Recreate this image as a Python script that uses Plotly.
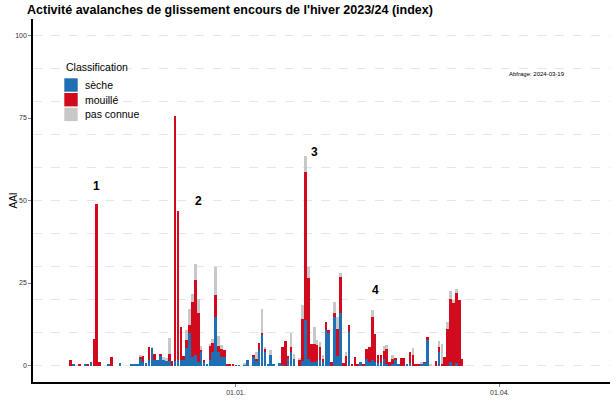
import plotly.graph_objects as go
import pandas as pd

dates = [
 "2023-11-05","2023-11-06","2023-11-08","2023-11-10","2023-11-11","2023-11-12","2023-11-13","2023-11-14","2023-11-15",
 "2023-11-18","2023-11-19","2023-11-22","2023-11-26","2023-11-27","2023-11-28","2023-11-29","2023-11-30",
 "2023-12-01","2023-12-02","2023-12-03","2023-12-04","2023-12-05","2023-12-06","2023-12-07","2023-12-08","2023-12-09",
 "2023-12-10","2023-12-11","2023-12-12","2023-12-13","2023-12-14","2023-12-15","2023-12-16","2023-12-17","2023-12-18",
 "2023-12-19","2023-12-20","2023-12-21","2023-12-22","2023-12-23","2023-12-24","2023-12-25","2023-12-26","2023-12-27",
 "2023-12-28","2023-12-29","2023-12-30","2023-12-31",
 "2024-01-01","2024-01-02","2024-01-04","2024-01-05","2024-01-07","2024-01-08","2024-01-09","2024-01-10","2024-01-11",
 "2024-01-12","2024-01-13","2024-01-14","2024-01-16","2024-01-17","2024-01-18","2024-01-19","2024-01-20","2024-01-21",
 "2024-01-23","2024-01-24","2024-01-25","2024-01-26","2024-01-27","2024-01-28","2024-01-29","2024-01-30","2024-01-31",
 "2024-02-01","2024-02-02","2024-02-03","2024-02-04","2024-02-05","2024-02-06","2024-02-07","2024-02-08","2024-02-09",
 "2024-02-10","2024-02-11","2024-02-12","2024-02-13","2024-02-14","2024-02-15","2024-02-16","2024-02-17","2024-02-18",
 "2024-02-19","2024-02-20","2024-02-21","2024-02-22","2024-02-23","2024-02-24","2024-02-25","2024-02-26","2024-02-27",
 "2024-02-28","2024-02-29","2024-03-01","2024-03-02","2024-03-03","2024-03-04","2024-03-05","2024-03-06","2024-03-07",
 "2024-03-08","2024-03-10","2024-03-11","2024-03-12","2024-03-13","2024-03-14","2024-03-15","2024-03-16","2024-03-17",
 "2024-03-18","2024-03-19",
]

seche = [
 0,0.3,0,0.3,0,1.0,0,0,0,
 0.3,0,0.9,0.2,0.3,0.3,2,1,
 0.7,1.6,5.4,1.6,1.6,3,1.6,1.6,1.4,
 0,1.5,1.6,1.6,1.6,5.2,10,2.6,3.1,
 1.1,4,1.1,0.2,1.6,4.1,14.7,4,2.6,
 2.6,0,0,0,
 0.1,0.1,0.3,1.8,2.6,1.4,4.6,9.5,4.1,
 0.6,3.1,0.2,0.9,0.3,0,2.1,4.1,2.1,
 0,1.5,13.7,2.1,1.1,1,1.3,1.6,1.1,
 10.7,9.9,0,14.7,2.8,15.8,0,0,10.2,
 0,0,0,1.1,0,2.1,1.1,1.6,1,
 0.8,1,1.9,0.5,0,0.5,1.8,0.2,0,
 0,0.2,0.8,0,0,0,0.6,0.8,7.7,
 0,0,4.1,0,0,0,1,0,0.8,
 0,0,
]

mouille = [
 1.6,0,0.4,0,0.3,0,8,49,1,
 0,2.5,0,0,0,0,0.5,1.8,
 0,4,0,2,0,0.4,0,0,2.2,
 1.4,74,45.2,10,1.2,2.5,2.2,16.7,22.8,
 14.7,0.8,0.7,0,4.6,2.8,6.6,2,2.5,
 2.2,0.2,0.3,0.6,
 0,0,0,0,0.5,0.6,2.1,0.5,1,
 0,0,0,0,5.2,7.3,0.7,1.6,0,
 1.8,12.7,45,24.3,5.4,5.5,4.9,3.9,1,
 2.5,0.8,1.1,1.1,8.4,11.1,0.8,2.8,2,
 0.6,2.6,0.6,0,0.3,3,4.6,13.1,8.6,
 2.3,2.1,2.5,4.6,1.1,1.5,0.3,0,2.2,
 2.4,0,3.3,3.1,0.4,0.4,0,0.2,1,
 0,1.4,1.4,0.6,2.6,11.2,19.3,18.8,21.2,
 20,2.1,
]

inconnue = [
 0,0,0,0,0,0,0,0,0,
 0,0,0,0,0,0,0.8,0,
 0,0,0.2,0,0,0,1,0.6,4.6,
 0,0,0,0,0,3,5,2.5,4.8,
 4.5,1,0,0,0.3,1.1,8.7,3,1.1,
 0,0,0,0,
 0,0,0.5,0,0,2,0,7,0.3,
 0,1.5,0,0,0,0,0,4.2,1.5,
 0.6,4,4.7,3.5,0,5.2,1.5,1.7,1.2,
 0,0,0,3.3,3.5,1.2,0,1.3,0,
 0,0,0,0,0,0,0,2.2,0,
 0,0,1.6,1,0,1.1,0,0,0,
 0,0,0,2.1,0,0,0.5,0,0,
 0.6,0,2,5.9,0,2,2.2,1,1.2,
 0,0,
]

labels = ["1", "2", "3", "4"]
label_dates = ["2023-11-14", "2023-12-19", "2024-01-28", "2024-02-18"]
label_values = [54.5, 50, 64.8, 23]

series_names = ["sèche", "mouillé", "pas connue"]
colors = ["#1F6FB5", "#D20A1E", "#C8C8C8"]

FONT = "Liberation Sans, Arial, sans-serif"
W, H = 616, 411
ML, MR, MT, MB = 33, 6, 19, 29
PW, PH = W - ML - MR, H - MT - MB

def px_x(x):
    return (x - ML) / PW

def px_y(y):
    return (H - MB - y) / PH

DAY_MS = 86400000
fig = go.Figure()
for name, vals, col in zip(series_names, [seche, mouille, inconnue], colors):
    fig.add_trace(go.Bar(
        x=pd.to_datetime(dates), y=vals, name=name,
        marker=dict(color=col, line=dict(width=0)),
        width=0.9 * DAY_MS, showlegend=False,
    ))

for lab, d, v in zip(labels, label_dates, label_values):
    fig.add_annotation(x=d, y=v, text="<b>" + lab + "</b>", showarrow=False,
                       font=dict(size=12, color="#000000", family=FONT))

# legend (drawn manually to match the compact key)
fig.add_annotation(xref="paper", yref="paper", x=px_x(64), y=px_y(66.5), xanchor="left", yanchor="middle",
                   text="Classification", showarrow=False, font=dict(size=10.5, color="#000000", family=FONT))
key_tops = [78.3, 93.0, 107.7]
for name, col, top in zip(series_names, colors, key_tops):
    fig.add_shape(type="rect", xref="paper", yref="paper",
                  x0=px_x(64.3), x1=px_x(77.7), y0=px_y(top + 13.4), y1=px_y(top),
                  fillcolor=col, line=dict(width=0))
    fig.add_annotation(xref="paper", yref="paper", x=px_x(82.5), y=px_y(top + 6.7), xanchor="left", yanchor="middle",
                       text=name, showarrow=False, font=dict(size=10.5, color="#000000", family=FONT))

fig.add_annotation(xref="paper", yref="paper", x=px_x(567), y=px_y(69), text="Abfrage: 2024-03-19",
                   showarrow=False, font=dict(size=6, color="#000000", family=FONT))

fig.add_annotation(xref="paper", yref="paper", x=px_x(6), y=px_y(201), text="AAI", textangle=-90,
                   showarrow=False, font=dict(size=10, color="#000000", family=FONT))

fig.update_layout(
    width=W, height=H,
    barmode="stack", bargap=0,
    plot_bgcolor="white", paper_bgcolor="white",
    margin=dict(l=ML, r=MR, t=MT, b=MB, autoexpand=False),
    font=dict(family=FONT, color="#000000"),
    title=dict(text="<b>Activité avalanches de glissement encours de l'hiver 2023/24 (index)</b>",
               x=27/W, xanchor="left", y=1 - 10/H, yanchor="middle",
               font=dict(size=12.5, color="#000000")),
    showlegend=False,
)

fig.update_xaxes(
    type="date", range=["2023-10-23", "2024-05-09"],
    tickvals=["2024-01-01", "2024-04-01"], ticktext=["01.01.", "01.04."],
    showgrid=False, zeroline=False, automargin=False,
    showline=True, linecolor="#000000", linewidth=1.5,
    ticks="outside", ticklen=3, tickcolor="#888888",
    tickfont=dict(size=7, color="#333333"),
)
fig.update_yaxes(
    range=[-5, 105], tickvals=[0, 25, 50, 75, 100],
    showgrid=False, zeroline=False, automargin=False,
    showline=True, linecolor="#000000", linewidth=1.5,
    ticks="outside", ticklen=3, tickcolor="#888888",
    tickfont=dict(size=7, color="#333333"),
    minor=dict(tick0=0, dtick=10, showgrid=True, gridcolor="#E6E6E6", griddash="dash", gridwidth=1, ticks=""),
)

fig.write_html("out.html", config={"displayModeBar": False},
               post_script="document.body.style.margin='0';document.body.style.padding='0';")
